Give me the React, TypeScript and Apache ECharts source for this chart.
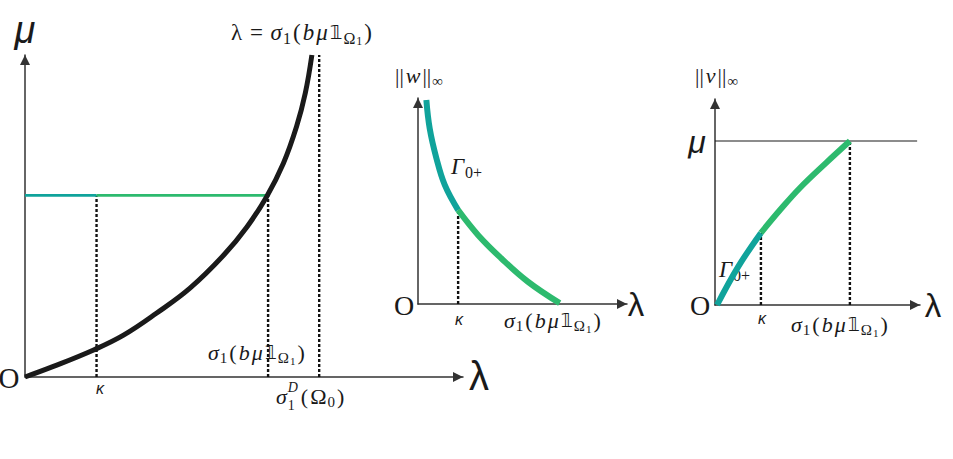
import React, { useEffect, useRef } from "react";
import * as echarts from "echarts";

// ---------- data ----------
// Panel 1: mu versus lambda, the black curve lambda = sigma1(b mu 1_Omega1)
const p1Lambda = [0, 0.38, 0.94, 1.35, 1.8, 2.26, 2.72, 3.04, 3.31, 3.54, 3.72, 3.84, 3.93];
const p1Mu = [0, 0.16, 0.42, 0.65, 0.99, 1.38, 1.89, 2.33, 2.8, 3.32, 3.89, 4.41, 5.0];
const p1Kappa = 0.98;
const p1SigmaMu = 3.33;
const p1SigmaD = 4.03;
const p1MuLevel = 2.82;
const p1Top = 5.0;

// Panel 2: ||w||_inf versus lambda
const p2TealLambda = [0.2, 0.28, 0.44, 0.64, 0.96];
const p2TealW = [4.95, 4.26, 3.54, 2.89, 2.28];
const p2GreenLambda = [0.96, 1.44, 1.99, 2.63, 3.39];
const p2GreenW = [2.28, 1.67, 1.11, 0.54, 0.02];
const p2Kappa = 0.96;
const p2KappaW = 2.28;

// Panel 3: ||v||_inf versus lambda
const p3TealLambda = [0.05, 0.56, 1.12];
const p3TealV = [0, 0.92, 1.75];
const p3GreenLambda = [1.12, 1.59, 2.07, 2.71, 3.29];
const p3GreenV = [1.75, 2.31, 2.84, 3.45, 3.98];
const p3Mu = 3.98;
const p3MuLineEnd = 4.93;
const p3Kappa = 1.12;
const p3KappaV = 1.75;
const p3Sigma = 3.29;

const axisMaxX = [6, 5, 5];
const axisMaxY = [5, 5, 5];

const TEAL = "#10a39b";
const GREEN = "#2dba6e";
const INK = "#1a1a1a";
const AXIS = "#333333";
const SERIF = '"Liberation Serif", "DejaVu Serif", serif';
const SANS = '"Liberation Sans", "DejaVu Sans", sans-serif';
const DBL = '"DejaVu Sans", "DejaVu Serif", serif';

const zip = (xs: number[], ys: number[]) => xs.map((x, i) => [x, ys[i]]);

function richFor(size: number) {
  const L = Math.round(size * 1.5);
  const sub = Math.round(size * 0.7);
  const small = Math.round(size * 0.5);
  const subH = (d: number) => Math.max(1, L - 2 * d); // centre d px below the main centre (bottom-aligned)
  const supH = (u: number) => Math.max(1, L - 2 * u); // centre u px above the main centre (top-aligned)
  const pad = [0, 1, 0, 1];
  return {
    lineHeight: L,
    rich: {
      r: { fontFamily: SERIF, fontSize: size, fill: INK, padding: pad },
      i: { fontFamily: SERIF, fontSize: size, fontStyle: "italic", fill: INK, padding: pad },
      s: { fontFamily: SERIF, fontSize: sub, height: subH(Math.round(size * 0.28)), verticalAlign: "bottom", fill: INK, padding: [0, 1, 0, 0] },
      sl: { fontFamily: SERIF, fontSize: Math.round(size * 0.62), height: subH(Math.round(size * 0.4)), verticalAlign: "bottom", fill: INK, width: Math.round(size * 0.55) },
      ss: { fontFamily: SERIF, fontSize: small, height: subH(Math.round(size * 0.4)), verticalAlign: "bottom", fill: INK, padding: [0, 1, 0, 0] },
      sup: { fontFamily: SERIF, fontStyle: "italic", fontSize: Math.round(size * 0.62), height: supH(Math.round(size * 0.42)), verticalAlign: "top", width: 0, fill: INK },
      db: { fontFamily: DBL, fontSize: Math.round(size * 0.85), fill: INK, padding: pad },
    },
  };
}

function mtext(x: number, y: number, text: string, size: number) {
  return {
    type: "text",
    x,
    y,
    silent: true,
    style: {
      text,
      ...richFor(size),
      fill: INK,
      align: "left",
      verticalAlign: "middle",
      textAlign: "left",
      textVerticalAlign: "middle",
    },
  };
}

function glyph(x: number, y: number, text: string, size: number, family: string, italic: boolean) {
  return {
    type: "text",
    x,
    y,
    silent: true,
    style: {
      text,
      fontFamily: family,
      fontSize: size,
      fontStyle: italic ? "italic" : "normal",
      fill: INK,
      align: "center",
      verticalAlign: "middle",
      textAlign: "center",
      textVerticalAlign: "middle",
    },
  };
}

const SIGMA_LABEL = "{i|σ}{s|1}{r|(}{i|b}{i|μ}{db|𝟙}{s|Ω}{ss|1}{r|)}";

export default function App() {
  const ref = useRef<HTMLDivElement>(null);

  useEffect(() => {
    if (!ref.current) return;
    const chart = echarts.init(ref.current, null, { renderer: "svg" });

    const grids = [
      { left: 25, top: 55, width: 438, height: 322 },
      { left: 418, top: 98, width: 209, height: 206 },
      { left: 715, top: 99, width: 205, height: 206 },
    ].map((g) => ({ ...g, containLabel: false, outerBoundsMode: "none", show: false }));

    const axisLine = {
      show: true,
      onZero: false,
      symbol: ["none", "triangle"],
      symbolSize: [10, 10],
      symbolOffset: [0, -5],
      lineStyle: { color: AXIS, width: 1.5 },
    };

    const mkAxis = (i: number, max: number) => ({
      gridIndex: i,
      type: "value",
      min: 0,
      max,
      axisLine,
      axisTick: { show: false },
      axisLabel: { show: false },
      splitLine: { show: false },
    });

    const line = (gi: number, data: number[][], color: string, width: number, opts: any = {}) => ({
      type: "line",
      xAxisIndex: gi,
      yAxisIndex: gi,
      data,
      symbol: "none",
      showSymbol: false,
      silent: true,
      smooth: opts.smooth ?? false,
      z: opts.z ?? 2,
      lineStyle: { color, width, type: opts.dash ? [3, 2] : "solid", cap: "butt" },
    });

    const dotted = (gi: number, x: number, y0: number, y1: number) =>
      line(gi, [[x, y0], [x, y1]], "#111111", 2.4, { dash: true, z: 1 });

    const series = [
      // panel 1
      line(0, [[0, p1MuLevel], [p1Kappa, p1MuLevel]], TEAL, 2.6),
      line(0, [[p1Kappa, p1MuLevel], [p1SigmaMu, p1MuLevel]], GREEN, 2.6),
      dotted(0, p1Kappa, 0, p1MuLevel),
      dotted(0, p1SigmaMu, 0, p1MuLevel),
      dotted(0, p1SigmaD, 0, p1Top),
      line(0, zip(p1Lambda, p1Mu), INK, 5, { smooth: 0.4, z: 3 }),
      // panel 2
      dotted(1, p2Kappa, 0, p2KappaW),
      line(1, zip(p2TealLambda, p2TealW), TEAL, 6, { smooth: 0.4, z: 3 }),
      line(1, zip(p2GreenLambda, p2GreenW), GREEN, 6, { smooth: 0.4, z: 3 }),
      // panel 3
      line(2, [[0, p3Mu], [p3MuLineEnd, p3Mu]], INK, 1.2),
      dotted(2, p3Kappa, 0, p3KappaV),
      dotted(2, p3Sigma, 0, p3Mu),
      line(2, zip(p3TealLambda, p3TealV), TEAL, 6, { smooth: 0.4, z: 3 }),
      line(2, zip(p3GreenLambda, p3GreenV), GREEN, 6, { smooth: 0.4, z: 3 }),
    ];

    const graphic = [
      // panel 1
      glyph(25, 30, "μ", 38, SANS, true),
      glyph(479, 376, "λ", 40, SANS, false),
      glyph(9, 378, "O", 29, SERIF, false),
      glyph(100, 388, "κ", 16, SANS, true),
      mtext(230, 32, "{r|λ}{r| = }" + SIGMA_LABEL, 23),
      mtext(207, 352, SIGMA_LABEL, 22),
      mtext(275, 396, "{i|σ}{sup|D}{sl|1}{r|(}{r|Ω}{s|0}{r|)}", 22),
      // panel 2
      mtext(394, 75, "{r|||}{i|w}{r|||}{s|∞}", 22),
      mtext(450, 166, "{i|Γ}{s|0+}", 23),
      glyph(404, 305, "O", 28, SERIF, false),
      glyph(459, 319, "κ", 16, SANS, true),
      mtext(503, 320, SIGMA_LABEL, 22),
      glyph(636, 304, "λ", 33, SANS, false),
      // panel 3
      mtext(694, 75, "{r|||}{i|v}{r|||}{s|∞}", 22),
      glyph(697, 142, "μ", 32, SANS, true),
      mtext(718, 269, "{i|Γ}{s|0+}", 23),
      glyph(700, 305, "O", 28, SERIF, false),
      glyph(762, 318, "κ", 16, SANS, true),
      mtext(790, 324, SIGMA_LABEL, 22),
      glyph(933, 305, "λ", 33, SANS, false),
    ];

    chart.setOption({
      animation: false,
      backgroundColor: "#ffffff",
      grid: grids,
      xAxis: axisMaxX.map((m, i) => mkAxis(i, m)),
      yAxis: axisMaxY.map((m, i) => mkAxis(i, m)),
      series,
      graphic,
    });

    return () => chart.dispose();
  }, []);

  return (
    <div
      ref={ref}
      style={{ position: "fixed", left: 0, top: 0, width: 953, height: 459, background: "#fff" }}
    />
  );
}
